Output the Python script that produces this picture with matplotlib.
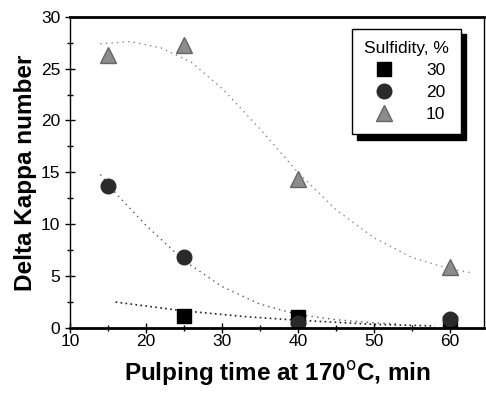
import matplotlib.pyplot as plt
from matplotlib.ticker import MultipleLocator

plt.rcParams['font.family'] = ['Liberation Sans', 'DejaVu Sans']

# measured points
time_30 = [25, 40, 60]
kappa_30 = [1.2, 1.1, 0.5]
time_20 = [15, 25, 40, 60]
kappa_20 = [13.7, 6.8, 0.5, 0.9]
time_10 = [15, 25, 40, 60]
kappa_10 = [26.3, 27.3, 14.4, 5.9]

# fitted trend lines
fit_x_30 = [16, 25, 33, 40, 50, 58]
fit_y_30 = [2.5, 1.65, 1.1, 0.75, 0.35, 0.2]
fit_x_20 = [14, 16, 20, 25, 30, 35, 40, 45, 50, 53]
fit_y_20 = [14.8, 13.0, 9.9, 6.5, 4.0, 2.3, 1.3, 0.8, 0.5, 0.4]
fit_x_10 = [14, 16, 18, 22, 26, 30, 35, 40, 45, 50, 55, 60, 63]
fit_y_10 = [27.4, 27.5, 27.6, 27.0, 25.6, 23.1, 19.2, 15.0, 11.4, 8.7, 6.8, 5.7, 5.3]

fig = plt.figure(figsize=(4.86, 3.94), dpi=100)
ax = fig.add_axes([0.144, 0.1675, 0.852, 0.79])

ax.plot(fit_x_10, fit_y_10, ls=(0, (1, 3)), color='#888888', lw=1)
ax.plot(fit_x_20, fit_y_20, ls=(0, (1, 3)), color='#555555', lw=1)
ax.plot(fit_x_30, fit_y_30, ls=(0, (1, 2)), color='#222222', lw=1.2)

ax.plot(time_30, kappa_30, ls='none', marker='s', ms=9.5, color='black', label='30')
ax.plot(time_20, kappa_20, ls='none', marker='o', ms=10.5, color='#2a2a2a', label='20')
ax.plot(time_10, kappa_10, ls='none', marker='^', ms=12, color='#8c8c8c',
        markeredgecolor='#666666', label='10')

ax.set_xlim(10, 64.5)
ax.set_ylim(0, 30)
ax.xaxis.set_major_locator(MultipleLocator(10))
ax.xaxis.set_minor_locator(MultipleLocator(5))
ax.yaxis.set_major_locator(MultipleLocator(5))
ax.yaxis.set_minor_locator(MultipleLocator(2.5))
ax.tick_params(which='major', direction='inout', length=7, labelsize=12.5, width=1)
ax.tick_params(which='minor', direction='inout', length=4, width=1)
ax.tick_params(axis='x', pad=1)

ax.spines['top'].set_linewidth(2)
ax.spines['bottom'].set_linewidth(2)
ax.spines['left'].set_linewidth(1)
ax.spines['right'].set_linewidth(1)

ax.set_xlabel('Pulping time at 170$^{\\rm o}$C, min', fontsize=17.5, fontweight='bold', labelpad=7)
ax.set_ylabel('Delta Kappa number', fontsize=17.5, fontweight='bold', labelpad=3)

leg = ax.legend(title='Sulfidity, %', loc='upper right', bbox_to_anchor=(0.944, 0.961),
                borderaxespad=0, fontsize=12.5, title_fontsize=12.5, frameon=True,
                fancybox=False, shadow={'color': 'black', 'alpha': 1, 'ox': 4, 'oy': -4},
                handletextpad=1.4, borderpad=0.7, labelspacing=0.4, framealpha=1)
leg.get_frame().set_edgecolor('black')
leg.get_frame().set_linewidth(1)

fig.savefig('out.png', dpi=100)
